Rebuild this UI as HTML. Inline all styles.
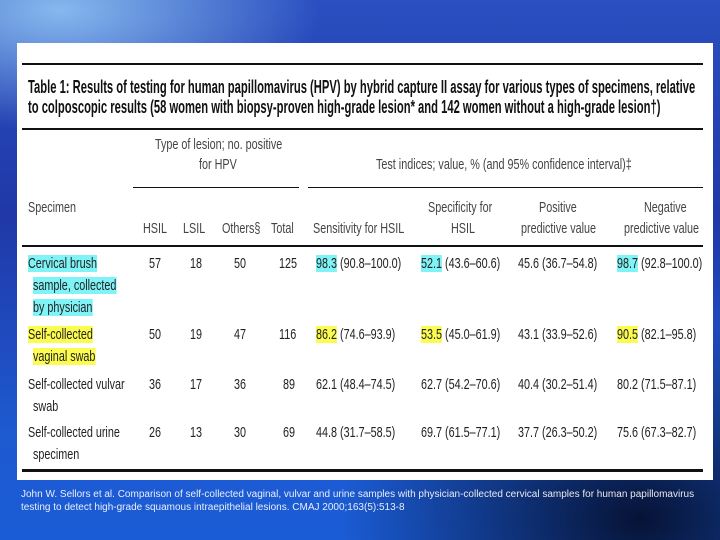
<!DOCTYPE html>
<html><head><meta charset="utf-8">
<style>
html,body{margin:0;padding:0}
body{width:720px;height:540px;position:relative;overflow:hidden;font-family:"Liberation Sans",sans-serif;
background:
radial-gradient(ellipse 260px 120px at 60px 10px, rgba(140,190,240,0.95), rgba(140,190,240,0) 100%),
radial-gradient(ellipse 300px 200px at 640px 520px, rgba(5,15,45,0.95), rgba(5,15,45,0) 100%),
linear-gradient(180deg,#2a4fc0 0%,#2038a8 40%,#1e5ad0 80%,#1a5cd6 100%);}
.panel{position:absolute;left:17px;top:43px;width:696px;height:437px;background:#fff}
.t{position:absolute;white-space:nowrap;transform:scaleX(.72);transform-origin:left top;color:#222;font-size:15px;line-height:17px}
.ttl{font-weight:bold;font-size:18px;line-height:20px;color:#111;transform:scaleX(.623)}
.h{color:#444;font-size:15px}
.rule{position:absolute;background:#111}
.cy{background:#7ff3f6}
.ye{background:#fbfb50}
.foot{position:absolute;left:21px;color:#fff;font-size:10px;line-height:14px;white-space:nowrap;opacity:.9}
</style></head><body>
<div class="panel"></div>
<div class="rule" style="left:22px;top:63px;width:681px;height:2px"></div>
<div class="t ttl" style="left:28px;top:77px">Table 1: Results of testing for human papillomavirus (HPV) by hybrid capture II assay for various types of specimens, relative</div>
<div class="t ttl" style="left:28px;top:97px">to colposcopic results (58 women with biopsy-proven high-grade lesion* and 142 women without a high-grade lesion†)</div>
<div class="rule" style="left:22px;top:128px;width:681px;height:2px"></div>

<div class="t h" style="left:155px;top:136px">Type of lesion; no. positive</div>
<div class="t h" style="left:199px;top:156px">for HPV</div>
<div class="t h" style="left:376px;top:156px">Test indices; value, % (and 95% confidence interval)‡</div>
<div class="rule" style="left:133px;top:187px;width:166px;height:1px"></div>
<div class="rule" style="left:308px;top:187px;width:395px;height:1px"></div>

<div class="t h" style="left:28px;top:199px">Specimen</div>
<div class="t h" style="left:143px;top:220px">HSIL</div>
<div class="t h" style="left:183px;top:220px">LSIL</div>
<div class="t h" style="left:222px;top:220px">Others§</div>
<div class="t h" style="left:271px;top:220px">Total</div>
<div class="t h" style="left:313px;top:220px">Sensitivity for HSIL</div>
<div class="t h" style="left:428px;top:199px">Specificity for</div>
<div class="t h" style="left:451px;top:220px">HSIL</div>
<div class="t h" style="left:539px;top:199px">Positive</div>
<div class="t h" style="left:521px;top:220px">predictive value</div>
<div class="t h" style="left:644px;top:199px">Negative</div>
<div class="t h" style="left:624px;top:220px">predictive value</div>
<div class="rule" style="left:22px;top:245px;width:681px;height:2px"></div>

<div class="t" style="left:28px;top:255px"><span class="cy">Cervical brush</span></div>
<div class="t" style="left:33px;top:277px"><span class="cy">sample, collected</span></div>
<div class="t" style="left:33px;top:299px"><span class="cy">by physician</span></div>
<div class="t" style="left:149px;top:255px">57</div>
<div class="t" style="left:190px;top:255px">18</div>
<div class="t" style="left:234px;top:255px">50</div>
<div class="t" style="left:279px;top:255px">125</div>
<div class="t" style="left:316px;top:255px"><span class="cy">98.3</span> (90.8–100.0)</div>
<div class="t" style="left:421px;top:255px"><span class="cy">52.1</span> (43.6–60.6)</div>
<div class="t" style="left:518px;top:255px">45.6 (36.7–54.8)</div>
<div class="t" style="left:617px;top:255px"><span class="cy">98.7</span> (92.8–100.0)</div>

<div class="t" style="left:28px;top:326px"><span class="ye">Self-collected</span></div>
<div class="t" style="left:33px;top:348px"><span class="ye">vaginal swab</span></div>
<div class="t" style="left:149px;top:326px">50</div>
<div class="t" style="left:190px;top:326px">19</div>
<div class="t" style="left:234px;top:326px">47</div>
<div class="t" style="left:279px;top:326px">116</div>
<div class="t" style="left:316px;top:326px"><span class="ye">86.2</span> (74.6–93.9)</div>
<div class="t" style="left:421px;top:326px"><span class="ye">53.5</span> (45.0–61.9)</div>
<div class="t" style="left:518px;top:326px">43.1 (33.9–52.6)</div>
<div class="t" style="left:617px;top:326px"><span class="ye">90.5</span> (82.1–95.8)</div>

<div class="t" style="left:28px;top:376px">Self-collected vulvar</div>
<div class="t" style="left:33px;top:398px">swab</div>
<div class="t" style="left:149px;top:376px">36</div>
<div class="t" style="left:190px;top:376px">17</div>
<div class="t" style="left:234px;top:376px">36</div>
<div class="t" style="left:283px;top:376px">89</div>
<div class="t" style="left:316px;top:376px">62.1 (48.4–74.5)</div>
<div class="t" style="left:421px;top:376px">62.7 (54.2–70.6)</div>
<div class="t" style="left:518px;top:376px">40.4 (30.2–51.4)</div>
<div class="t" style="left:617px;top:376px">80.2 (71.5–87.1)</div>

<div class="t" style="left:28px;top:424px">Self-collected urine</div>
<div class="t" style="left:33px;top:446px">specimen</div>
<div class="t" style="left:149px;top:424px">26</div>
<div class="t" style="left:190px;top:424px">13</div>
<div class="t" style="left:234px;top:424px">30</div>
<div class="t" style="left:283px;top:424px">69</div>
<div class="t" style="left:316px;top:424px">44.8 (31.7–58.5)</div>
<div class="t" style="left:421px;top:424px">69.7 (61.5–77.1)</div>
<div class="t" style="left:518px;top:424px">37.7 (26.3–50.2)</div>
<div class="t" style="left:617px;top:424px">75.6 (67.3–82.7)</div>

<div class="rule" style="left:22px;top:469px;width:681px;height:3px"></div>

<div class="foot" style="top:488px">John W. Sellors et al. Comparison of self-collected vaginal, vulvar and urine samples with physician-collected cervical samples for human papillomavirus</div>
<div class="foot" style="top:501px">testing to detect high-grade squamous intraepithelial lesions. CMAJ 2000;163(5):513-8</div>
</body></html>
